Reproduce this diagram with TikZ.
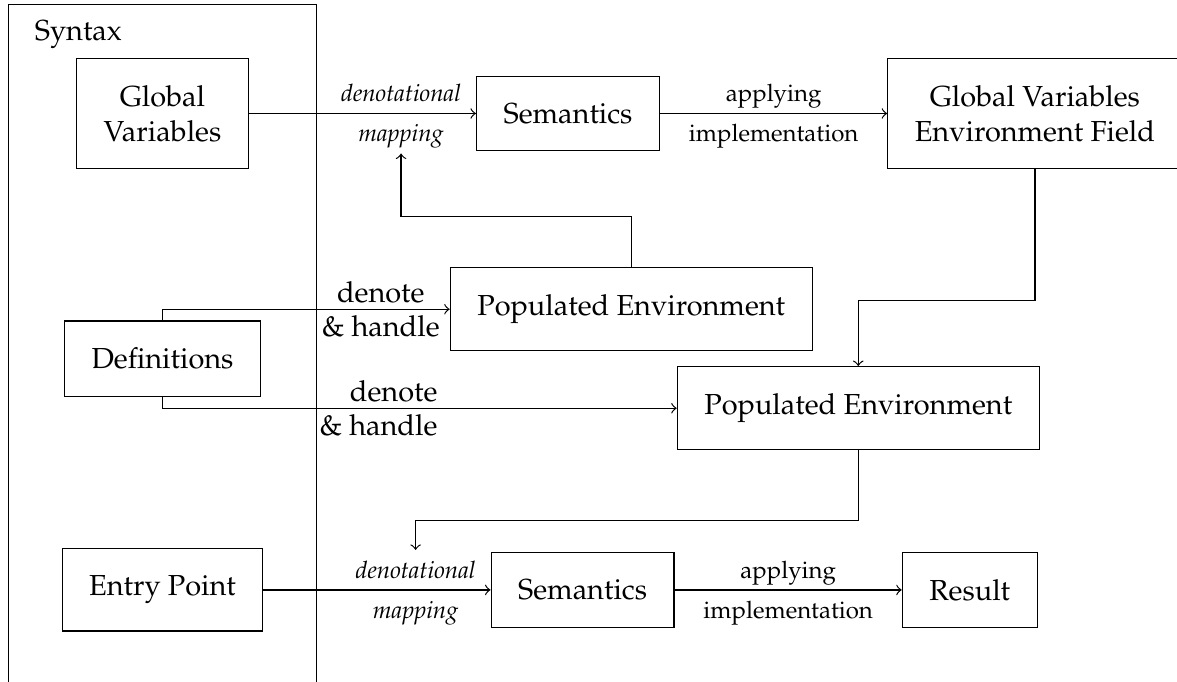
\documentclass[tikz,border=0pt]{standalone}
\usepackage[T1]{fontenc}
\usepackage{mathpazo}
\usetikzlibrary{positioning, fit}

\begin{document}
\fontsize{9.65pt}{11.6pt}\selectfont
\begin{tikzpicture}[
  node distance=2.66cm,
  box/.style={draw, rectangle, align=center, inner sep=9pt},
  arrow/.style={->},
  tag/.style={font=\footnotesize, text height=6pt, text depth=0.5pt}
]

\useasboundingbox (-54.17pt,37.83pt) rectangle (338.17pt,-189.5pt);

% Nodes
\node (globals) [box] at (0,0) {Global\\Variables};
\node (defs) [box, below=1.77cm of globals] {Definitions};
\node (entry) [box, below=1.77cm of defs] {Entry Point};

\node (syntax) [draw, fit=(globals)(defs)(entry), inner sep=17.7pt] {};
\node (syntaxname) [anchor=north west, xshift=5.6pt, yshift=-2pt] at (syntax.north west) {Syntax};

\node (sem) [box, right=of globals] {Semantics};
\node (gvenv) [box, right=of sem] {Global Variables\\Environment Field};
\node (popA) [box, right=2.21cm of defs, yshift=16.5pt] {Populated Environment};
\node (popB) [box, right=4.87cm of defs, yshift=-16.5pt] {Populated Environment};
\node (semB) [box, right=of entry] {Semantics};
\node (result) [box, right=of semB] {Result};

% Arrows
\draw [arrow] (globals) -- node[tag, above, pos=0.67] (denotA) {\itshape denotational} node[tag, below, pos=0.67] (mapA) {\itshape mapping} (sem);
\draw [arrow] (sem) -- node[tag, above] (applyA) {applying} node[tag, below] (implA) {implementation} (gvenv);
\draw [arrow] (popA.north) -- ++(0,0.59cm) -| (mapA.south);
\draw [arrow] (defs.north) |- node[pos=0.88, align=center] (denoteA) {denote\\\& handle} (popA.west);
\draw [arrow] (defs.south) |- node[pos=0.71, align=right] (denoteB) {denote\\\& handle} (popB.west);
\draw [arrow] (gvenv.south) -- ++(0,-1.54cm) -| (popB.north);
\draw [arrow] (entry) -- node[tag, above, pos=0.67] (denotB) {\itshape denotational} node[tag, below, pos=0.67] (mapB) {\itshape mapping} (semB);
\draw [arrow] (popB.south) -- ++(0,-0.82cm) -| (denotB.north);
\draw [arrow] (semB) -- node[tag, above] (applyB) {applying} node[tag, below] (implB) {implementation} (result);

\end{tikzpicture}
\end{document}
